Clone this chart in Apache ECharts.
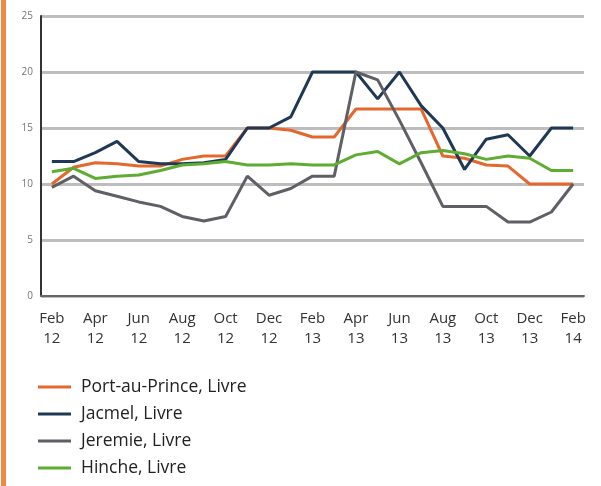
<!DOCTYPE html>
<html>
<head>
<meta charset="utf-8">
<script src="https://cdn.jsdelivr.net/npm/echarts@6/dist/echarts.min.js"></script>
<style>html,body{margin:0;padding:0;background:#fff}#c{width:601px;height:486px}</style>
</head>
<body>
<div id="c"></div>
<script>
const months = ['Feb\n12','Mar\n12','Apr\n12','May\n12','Jun\n12','Jul\n12','Aug\n12','Sep\n12','Oct\n12','Nov\n12','Dec\n12','Jan\n13',
  'Feb\n13','Mar\n13','Apr\n13','May\n13','Jun\n13','Jul\n13','Aug\n13','Sep\n13','Oct\n13','Nov\n13','Dec\n13','Jan\n14','Feb\n14'];
const portAuPrince = [10,11.5,11.9,11.8,11.6,11.6,12.2,12.5,12.5,15,15,14.8,14.2,14.2,16.7,16.7,16.7,16.7,12.5,12.3,11.7,11.6,10,10,10];
const jacmel = [12,12,12.8,13.8,12,11.8,11.8,11.9,12.2,15,15,16,20,20,20,17.6,20,17,15,11.3,14,14.4,12.5,15,15];
const jeremie = [9.7,10.7,9.4,8.9,8.4,8.0,7.1,6.7,7.1,10.7,9.0,9.6,10.7,10.7,20,19.3,15.7,11.9,8,8,8,6.6,6.6,7.5,10];
const hinche = [11.1,11.4,10.5,10.7,10.8,11.2,11.7,11.8,12.0,11.7,11.7,11.8,11.7,11.7,12.6,12.9,11.8,12.8,13,12.7,12.2,12.5,12.3,11.2,11.2];
const yTicks = [0,5,10,15,20,25];
const names = ['Port-au-Prince, Livre','Jacmel, Livre','Jeremie, Livre','Hinche, Livre'];
const colors = ['#e4672e','#1f3856','#5f5f66','#5eac32'];

const chart = echarts.init(document.getElementById('c'));
const seriesData = [portAuPrince, jacmel, jeremie, hinche];
chart.setOption({
  animation: false,
  grid: {left: 41, right: 17, top: 16, height: 280, containLabel: false},
  graphic: [{type:'rect', shape:{x:1,y:0,width:5,height:486}, style:{fill:'#ef8a45'}}],
  legend: {
    orient: 'vertical', left: 38, top: 377, padding: 0, itemGap: 7, itemWidth: 33, itemHeight: 3,
    icon: 'rect',
    textStyle: {color: '#222', fontSize: 17.5, lineHeight: 20, padding: [0,0,0,5], fontFamily: 'Open Sans'},
    data: names
  },
  xAxis: {
    type: 'category', data: months, boundaryGap: true,
    axisLine: {lineStyle: {color: '#666', width: 2}},
    axisTick: {alignWithLabel: true, interval: 0, length: 6, lineStyle: {color: '#333', width: 2}},
    axisLabel: {interval: 1, color: '#333', fontSize: 15, lineHeight: 20, margin: 13, fontFamily: 'Open Sans'}
  },
  yAxis: {
    type: 'value', min: 0, max: 25, interval: 5,
    axisLine: {show: true, lineStyle: {color: '#333', width: 2}},
    axisTick: {show: false},
    axisLabel: {color: '#777', fontSize: 10, margin: 8, fontFamily: 'Open Sans',
      formatter: v => yTicks.includes(v) ? String(v) : ''},
    splitLine: {lineStyle: {color: '#bdbdbd', width: 3}}
  },
  series: seriesData.map((d, i) => ({
    name: names[i], type: 'line', data: d, symbol: 'none',
    lineStyle: {color: colors[i], width: 3}, itemStyle: {color: colors[i]}
  }))
});
</script>
</body>
</html>
